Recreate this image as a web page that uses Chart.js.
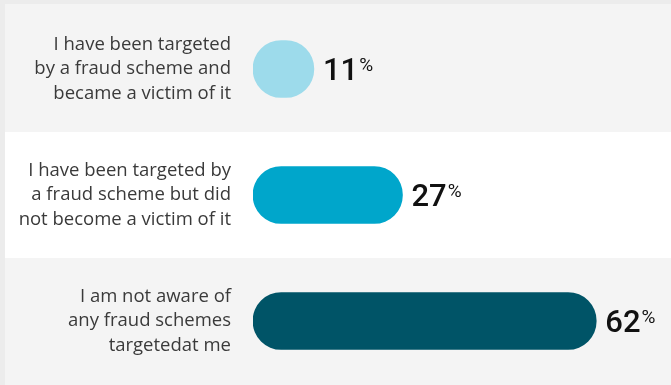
<!DOCTYPE html>
<html>
<head>
<meta charset="utf-8">
<script src="https://cdn.jsdelivr.net/npm/chart.js@4.4.1/dist/chart.umd.min.js"></script>
<style>
	html, body { margin: 0; padding: 0; background: #ececec; }
	#FraudChartContainer { position: relative; width: 671px; height: 385px; }
</style>
</head>
<body>
<div id="FraudChartContainer"><canvas id="FraudChart"></canvas></div>
<script>

const answers = [
	['I have been targeted', 'by a fraud scheme and', 'became a victim of it'],
	['I have been targeted by', 'a fraud scheme but did', 'not become a victim of it'],
	['I am not aware of', 'any fraud schemes', 'targetedat me']
];
const shares = [11, 27, 62];
const barColors = ['#9ddbeb', '#00a6cb', '#005467'];
const rowColors = ['#f4f4f4', '#ffffff', '#f4f4f4'];

const LABEL_FONT = '"Open Sans", "Noto Sans", sans-serif';
const VALUE_FONT = 'Roboto, "Noto Sans", sans-serif';

// alternating row bands behind each answer, first and last run to the edges
const rowBands = {
	id: 'rowBands',
	beforeDraw(chart) {
		const { ctx, chartArea, scales } = chart;
		const half = (chartArea.bottom - chartArea.top) / answers.length / 2;
		ctx.save();
		answers.forEach((a, i) => {
			const y = scales.y.getPixelForValue(i);
			let top = y - half;
			let bottom = y + half;
			if (i === 0) top = 4;
			if (i === answers.length - 1) bottom = chart.height;
			ctx.fillStyle = rowColors[i];
			ctx.fillRect(5, top, chart.width - 5, bottom - top);
		});
		ctx.restore();
	}
};

// "62%" style labels with the percent sign raised
const valueLabels = {
	id: 'valueLabels',
	afterDatasetsDraw(chart) {
		const { ctx } = chart;
		const meta = chart.getDatasetMeta(0);
		ctx.save();
		ctx.fillStyle = '#111111';
		ctx.textBaseline = 'alphabetic';
		ctx.textAlign = 'left';
		meta.data.forEach((bar, i) => {
			const num = String(shares[i]);
			const x = bar.x + 9;
			const base = bar.y + 11;
			ctx.font = '500 31px ' + VALUE_FONT;
			ctx.fillText(num, x, base);
			const w = ctx.measureText(num).width;
			ctx.font = '400 19px ' + VALUE_FONT;
			ctx.fillText('%', x + w + 1, base - 9);
		});
		ctx.restore();
	}
};

const ctx = document.getElementById('FraudChart').getContext('2d');
const fraudChart = new Chart(ctx, {
	type: 'bar',
	data: {
		labels: answers,
		datasets: [{
			data: shares,
			backgroundColor: barColors,
			barThickness: 57,
			borderRadius: 28.5,
			borderSkipped: false
		}]
	},
	options: {
		indexAxis: 'y',
		responsive: true,
		maintainAspectRatio: false,
		animation: false,
		layout: { padding: { top: 6, left: 5, right: 0, bottom: 1 } },
		plugins: {
			legend: { display: false },
			tooltip: { enabled: false }
		},
		scales: {
			x: {
				display: false,
				min: 0,
				max: 75.5
			},
			y: {
				grid: { display: false, drawTicks: false },
				border: { display: false },
				afterFit(scale) {
					scale.width = 248;
					scale.paddingTop = 0;
					scale.paddingBottom = 0;
				},
				ticks: {
					padding: 22,
					color: '#3a3a3a',
					font: { family: LABEL_FONT, size: 18.5, lineHeight: 1.33 }
				}
			}
		}
	},
	plugins: [rowBands, valueLabels]
});
</script>
</body>
</html>
